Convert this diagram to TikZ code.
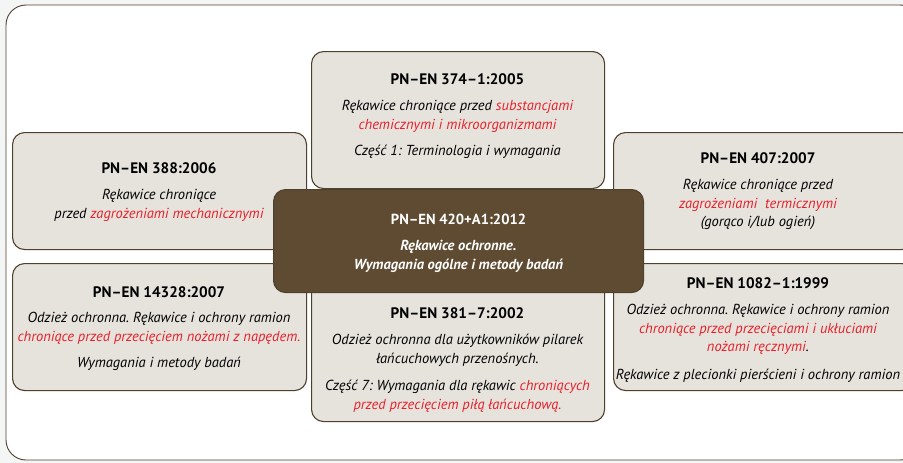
\documentclass[tikz,border=0pt]{standalone}
\usepackage{fontspec}
\setmainfont{PT Sans}
\frenchspacing
\definecolor{boxfill}{HTML}{E6E3DD}
\definecolor{boxline}{HTML}{4F3F2C}
\definecolor{corefill}{HTML}{5E4B32}
\definecolor{hazard}{HTML}{E8202A}
\definecolor{pagebg}{HTML}{F4F6F6}
\newcommand{\hz}[1]{\textcolor{hazard}{#1}}
\newcommand{\stdtitle}[1]{{\fontsize{15.2}{18.8}\selectfont\upshape\bfseries #1}}
\newcommand{\coretitle}[1]{{\fontsize{14.6}{18.8}\selectfont\upshape\bfseries #1}}
\begin{document}
\begin{tikzpicture}[x=1pt,y=-1pt,
  stdbox/.style={draw=boxline, line width=1.1pt, fill=boxfill, rounded corners=12pt,
    anchor=north west, inner sep=0pt},
  corebox/.style={draw=boxline, line width=1.1pt, fill=corefill, rounded corners=12pt,
    anchor=north west, inner sep=0pt},
  stdtext/.style={align=center, anchor=north, inner sep=0pt,
    font=\fontsize{14.5}{18.8}\selectfont\itshape},
  coretext/.style={align=center, anchor=north, inner sep=0pt, text=white,
    font=\fontsize{14.5}{18.8}\selectfont\bfseries\itshape}
]
% page background and outer frame
\fill[pagebg] (0,0) rectangle (903,463);
\useasboundingbox (0,0) rectangle (903,463);
\draw[boxline, line width=0.9pt, fill=white, rounded corners=20pt] (6,5) rectangle (920,460);

% surrounding standards
\node[stdbox, minimum width=294pt, minimum height=117pt] (b388) at (12,132) {};
\node[stdbox, minimum width=300pt, minimum height=117pt] (b407) at (613,132) {};
\node[stdbox, minimum width=294pt, minimum height=127pt] (b14328) at (12,263) {};
\node[stdbox, minimum width=300pt, minimum height=127pt] (b1082) at (613,263) {};
\node[stdbox, minimum width=293pt, minimum height=137pt] (b374) at (311,51) {};
\node[stdbox, minimum width=293pt, minimum height=158pt] (b381) at (311,263) {};
% central standard
\node[corebox, minimum width=370pt, minimum height=103pt] (b420) at (273,189) {};

% texts
\node[stdtext] (t374) at (457.5,73.5) {\stdtitle{PN–EN 374–1:2005}\\[7pt]
  Rękawice chroniące przed \hz{substancjami}\\
  \hz{chemicznymi i mikroorganizmami}\\[7.5pt]
  Część 1: Terminologia i wymagania};

\node[stdtext] (t388) at (159,162.5) {\stdtitle{PN–EN 388:2006}\\[7pt]
  Rękawice chroniące\\
  przed \hz{zagrożeniami mechanicznymi}};

\node[stdtext] (t407) at (758,152.5) {\stdtitle{PN–EN 407:2007}\\[7pt]
  Rękawice chroniące przed\\
  \hz{zagrożeniami\ \ termicznymi}\\
  (gorąco i/lub ogień)};

\node[coretext] (t420) at (458.5,214) {\coretitle{PN–EN 420+A1:2012}\\[7pt]
  Rękawice ochronne.\\
  Wymagania ogólne i metody badań};

\node[stdtext] (t14328) at (159,286.5) {\stdtitle{PN–EN 14328:2007}\\[6.5pt]
  Odzież ochronna. Rękawice i ochrony ramion\\
  \hz{chroniące przed przecięciem nożami z napędem.}\\[7pt]
  Wymagania i metody badań};

\node[stdtext] (t381) at (457.5,307.5) {\stdtitle{PN–EN 381–7:2002}\\[7.5pt]
  Odzież ochronna dla użytkowników pilarek\\
  łańcuchowych przenośnych.\\[8pt]
  Część 7: Wymagania dla rękawic \hz{chroniących}\\
  \hz{przed przecięciem piłą łańcuchową.}};

\node[stdtext] (t1082) at (758,277.5) {\stdtitle{PN–EN 1082–1:1999}\\[7pt]
  Odzież ochronna. Rękawice i ochrony ramion\\
  \hz{chroniące przed przecięciami i ukłuciami}\\
  \hz{nożami ręcznymi}.\\[8.5pt]
  Rękawice z plecionki pierścieni i ochrony ramion};
\end{tikzpicture}
\end{document}
